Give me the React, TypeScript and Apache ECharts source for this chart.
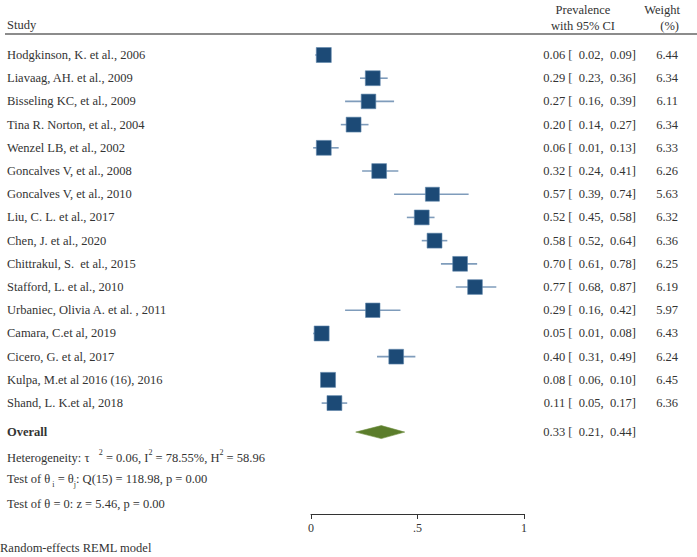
import React, { useEffect, useRef } from "react";
import * as echarts from "echarts";

const studies = [
  "Hodgkinson, K. et al., 2006",
  "Liavaag, AH. et al., 2009",
  "Bisseling KC, et al., 2009",
  "Tina R. Norton, et al., 2004",
  "Wenzel LB, et al., 2002",
  "Goncalves V, et al., 2008",
  "Goncalves V, et al., 2010",
  "Liu, C. L. et al., 2017",
  "Chen, J. et al., 2020",
  "Chittrakul, S.  et al., 2015",
  "Stafford, L. et al., 2010",
  "Urbaniec, Olivia A. et al. , 2011",
  "Camara, C.et al, 2019",
  "Cicero, G. et al, 2017",
  "Kulpa, M.et al 2016 (16), 2016",
  "Shand, L. K.et al, 2018",
];
const estimates = [0.06, 0.29, 0.27, 0.2, 0.06, 0.32, 0.57, 0.52, 0.58, 0.7, 0.77, 0.29, 0.05, 0.4, 0.08, 0.11];
const lower = [0.02, 0.23, 0.16, 0.14, 0.01, 0.24, 0.39, 0.45, 0.52, 0.61, 0.68, 0.16, 0.01, 0.31, 0.06, 0.05];
const upper = [0.09, 0.36, 0.39, 0.27, 0.13, 0.41, 0.74, 0.58, 0.64, 0.78, 0.87, 0.42, 0.08, 0.49, 0.1, 0.17];
const weights = [6.44, 6.34, 6.11, 6.34, 6.33, 6.26, 5.63, 6.32, 6.36, 6.25, 6.19, 5.97, 6.43, 6.24, 6.45, 6.36];
const overall = { est: 0.33, lo: 0.21, hi: 0.44 };
const overallRow = 16.25;
const xTicks = [0, 0.5, 1];
const xTickLabels = ["0", ".5", "1"];

const FONT = "'Liberation Serif', 'Times New Roman', serif";
const TXT = "#333";

const f2 = (v: number) => v.toFixed(2);
const ciText = (e: number, l: number, h: number) => `${f2(e)} [  ${f2(l)},  ${f2(h)}]`;

export default function App() {
  const ref = useRef<HTMLDivElement>(null);
  useEffect(() => {
    if (!ref.current) return;
    const chart = echarts.init(ref.current, null, { renderer: "svg" });
    const rows = studies.map((s, i) => [i, estimates[i], lower[i], upper[i], weights[i]]);
    const maxW = Math.max(...weights);
    const option: any = {
      animation: false,
      backgroundColor: "#fff",
      grid: { left: 311, width: 213, top: 34, height: 480 },
      xAxis: {
        type: "value",
        min: 0,
        max: 1,
        interval: 0.5,
        splitLine: { show: false },
        axisLine: { show: true, onZero: false, lineStyle: { color: "#333", width: 1 } },
        axisTick: { show: true, length: 5, lineStyle: { color: "#333" } },
        axisLabel: {
          color: TXT,
          fontFamily: FONT,
          fontSize: 12,
          margin: 8,
          formatter: (v: number) => xTickLabels[xTicks.indexOf(v)] ?? "",
        },
      },
      yAxis: {
        type: "value",
        inverse: true,
        min: -0.905,
        max: 19.78,
        show: false,
      },
      series: [
        {
          type: "custom",
          clip: false,
          data: rows,
          renderItem: (params: any, api: any) => {
            const i = api.value(0);
            const e = api.value(1);
            const l = api.value(2);
            const h = api.value(3);
            const w = api.value(4);
            const pe = api.coord([e, i]);
            const pl = api.coord([l, i]);
            const ph = api.coord([h, i]);
            const side = 15 * Math.sqrt(w / maxW);
            return {
              type: "group",
              children: [
                {
                  type: "line",
                  shape: { x1: pl[0], y1: pl[1], x2: ph[0], y2: ph[1] },
                  style: { stroke: "#7f9cbb", lineWidth: 1.6 },
                },
                {
                  type: "rect",
                  shape: { x: pe[0] - side / 2, y: pe[1] - side / 2, width: side, height: side },
                  style: { fill: "#1c4a76", stroke: "#5f86ab", lineWidth: 0.6 },
                },
                {
                  type: "text",
                  x: 7,
                  y: pe[1],
                  style: { text: studies[i], fontFamily: FONT, fontSize: 12.5, fill: TXT, verticalAlign: "middle", align: "left" },
                },
                {
                  type: "text",
                  x: 636,
                  y: pe[1],
                  style: { text: ciText(e, l, h), fontFamily: FONT, fontSize: 12.5, fill: TXT, verticalAlign: "middle", align: "right" },
                },
                {
                  type: "text",
                  x: 678,
                  y: pe[1],
                  style: { text: w.toFixed(2), fontFamily: FONT, fontSize: 12.5, fill: TXT, verticalAlign: "middle", align: "right" },
                },
              ],
            };
          },
        },
        {
          type: "custom",
          clip: false,
          data: [[overallRow, overall.est, overall.lo, overall.hi]],
          renderItem: (params: any, api: any) => {
            const r = api.value(0);
            const pe = api.coord([api.value(1), r]);
            const pl = api.coord([api.value(2), r]);
            const ph = api.coord([api.value(3), r]);
            const hh = 6.5;
            return {
              type: "group",
              children: [
                {
                  type: "polygon",
                  shape: { points: [[pl[0], pe[1]], [pe[0], pe[1] - hh], [ph[0], pe[1]], [pe[0], pe[1] + hh]] },
                  style: { fill: "#5b7d2b", stroke: "#6f8f3f", lineWidth: 0.6 },
                },
                {
                  type: "text",
                  x: 7,
                  y: pe[1],
                  style: { text: "Overall", fontFamily: FONT, fontSize: 12.5, fontWeight: "bold", fill: TXT, verticalAlign: "middle", align: "left" },
                },
                {
                  type: "text",
                  x: 636,
                  y: pe[1],
                  style: { text: ciText(api.value(1), api.value(2), api.value(3)), fontFamily: FONT, fontSize: 12.5, fill: TXT, verticalAlign: "middle", align: "right" },
                },
              ],
            };
          },
        },
      ],
      graphic: [
        { type: "text", left: 7, top: 18, style: { text: "Study", fontFamily: FONT, fontSize: 12.5, fill: TXT } },
        { type: "text", x: 583, y: 10, style: { text: "Prevalence", fontFamily: FONT, fontSize: 12.5, fill: TXT, align: "center", verticalAlign: "middle" } },
        { type: "text", x: 583, y: 26, style: { text: "with 95% CI", fontFamily: FONT, fontSize: 12.5, fill: TXT, align: "center", verticalAlign: "middle" } },
        { type: "text", x: 680, y: 10, style: { text: "Weight", fontFamily: FONT, fontSize: 12.5, fill: TXT, align: "right", verticalAlign: "middle" } },
        { type: "text", x: 679, y: 26, style: { text: "(%)", fontFamily: FONT, fontSize: 12.5, fill: TXT, align: "right", verticalAlign: "middle" } },
        { type: "line", shape: { x1: 5, y1: 34, x2: 697, y2: 34 }, style: { stroke: "#666", lineWidth: 1.5 } },
        {
          type: "text",
          x: 7,
          y: 456,
          style: {
            text: "{n|Heterogeneity: τ}{n|   }{s|2}{n| = 0.06, I}{s|2}{n| = 78.55%, H}{s|2}{n| = 58.96}",
            verticalAlign: "middle",
            rich: {
              n: { fontFamily: FONT, fontSize: 12.5, fill: TXT, color: TXT, lineHeight: 16, verticalAlign: "bottom" },
              s: { fontFamily: FONT, fontSize: 8, fill: TXT, color: TXT, lineHeight: 16, verticalAlign: "top" },
            },
          },
        },
        {
          type: "text",
          x: 7,
          y: 480,
          style: {
            text: "{n|Test of θ}{b| i}{n| = θ}{b|j}{n|: Q(15) = 118.98, p = 0.00}",
            verticalAlign: "middle",
            rich: {
              n: { fontFamily: FONT, fontSize: 12.5, fill: TXT, color: TXT, lineHeight: 16, verticalAlign: "top" },
              b: { fontFamily: FONT, fontSize: 8, fill: TXT, color: TXT, lineHeight: 16, verticalAlign: "bottom" },
            },
          },
        },
        { type: "text", x: 7, y: 504, style: { text: "Test of θ = 0: z = 5.46, p = 0.00", fontFamily: FONT, fontSize: 12.5, fill: TXT, verticalAlign: "middle" } },
        { type: "text", x: 0, y: 548, style: { text: "Random-effects REML model", fontFamily: FONT, fontSize: 12.5, fill: TXT, verticalAlign: "middle" } },
      ],
    };
    chart.setOption(option);
    return () => chart.dispose();
  }, []);
  return <div ref={ref} style={{ width: 697, height: 557, position: "absolute", left: 0, top: 0 }} />;
}
